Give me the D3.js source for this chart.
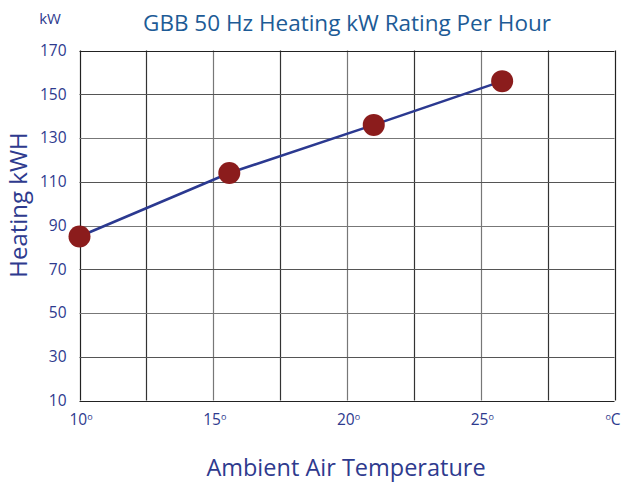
<!DOCTYPE html>
<html>
<head>
<meta charset="utf-8">
<script src="https://cdn.jsdelivr.net/npm/d3@7"></script>
<style>
  html, body { margin: 0; padding: 0; background: #fff; }
  svg { display: block; }
  text { font-family: "Open Sans", "Noto Sans", sans-serif; }
</style>
</head>
<body>
<svg id="chart" width="621" height="484"></svg>
<script>
// ---- data ----
const temperatures = [10, 15.6, 21.0, 25.8];
const heatingKW = [85, 114, 136, 156];
const yTicks = [10, 30, 50, 70, 90, 110, 130, 150, 170];
const xGrid = [10, 12.5, 15, 17.5, 20, 22.5, 25, 27.5, 30];
const xTickValues = [10, 15, 20, 25, 30];
const xTickLabels = ["10", "15", "20", "25", ""];
const xTickSuffix = ["o", "o", "o", "o", "oC"];
const titleText = "GBB 50 Hz Heating kW Rating Per Hour";
const yUnitText = "kW";
const yTitleText = "Heating kWH";
const xTitleText = "Ambient Air Temperature";

// ---- layout ----
const svg = d3.select("#chart");
const mLeft = 79.5, mRight = 614.5, mTop = 50.5, mBottom = 400.5;
const x = d3.scaleLinear().domain([10, 30]).range([mLeft, mRight]);
const y = d3.scaleLinear().domain([10, 170]).range([mBottom, mTop]);

const navy = "#2e3a8e";
const titleBlue = "#1d5b96";

// grid
const g = svg.append("g");
g.selectAll("line.v").data(xGrid).join("line")
  .attr("x1", d => Math.round(x(d)) + 0.5).attr("x2", d => Math.round(x(d)) + 0.5)
  .attr("y1", mTop).attr("y2", mBottom)
  .attr("stroke", (d, i) => (i === 0 || i === xGrid.length - 1) ? "#222" : (i % 2 ? "#333" : "#777"))
  .attr("stroke-width", 1.2);
g.selectAll("line.h").data(yTicks).join("line")
  .attr("x1", mLeft).attr("x2", mRight)
  .attr("y1", d => Math.round(y(d)) + 0.5).attr("y2", d => Math.round(y(d)) + 0.5)
  .attr("stroke", (d, i) => (i === 0 || i === yTicks.length - 1) ? "#222" : (i % 2 ? "#555" : "#777"))
  .attr("stroke-width", 1.2);

// y axis labels
const yAxis = d3.axisLeft(y).tickValues(yTicks).tickSize(0).tickPadding(13);
svg.append("g").attr("transform", `translate(${mLeft},0)`).call(yAxis)
  .call(s => s.select(".domain").remove())
  .call(s => s.selectAll("text")
    .attr("fill", navy).attr("font-size", 15.5)
    .attr("font-family", "'Open Sans', sans-serif"));

// x axis labels
const xAxis = d3.axisBottom(x).tickValues(xTickValues).tickSize(0).tickPadding(0)
  .tickFormat(() => "");
const xa = svg.append("g").attr("transform", `translate(0,${mBottom})`).call(xAxis);
xa.select(".domain").remove();
xa.selectAll(".tick text").each(function(d, i) {
  const suf = xTickSuffix[i];
  const t = d3.select(this).attr("y", 24).attr("dy", 0)
    .attr("x", suf.length > 1 ? -2 : 1)
    .attr("fill", navy).attr("font-size", 15.5).attr("font-family", "'Open Sans', sans-serif")
    .attr("text-anchor", "middle");
  t.text(null);
  t.append("tspan").text(xTickLabels[i]);
  t.append("tspan").attr("font-size", 9).attr("dy", -5).text("o");
  if (suf.length > 1) t.append("tspan").attr("dy", 5).text(suf.slice(1));
});

// line
const pts = temperatures.map((t, i) => [t, heatingKW[i]]);
svg.append("path").datum(pts)
  .attr("d", d3.line().x(d => x(d[0])).y(d => y(d[1])))
  .attr("fill", "none").attr("stroke", "#2b3990").attr("stroke-width", 2.6);

// points
svg.selectAll("circle.pt").data(pts).join("circle")
  .attr("cx", d => x(d[0])).attr("cy", d => y(d[1])).attr("r", 11)
  .attr("fill", "#8b1c1c");

// title
svg.append("text").attr("x", 347).attr("y", 31).attr("text-anchor", "middle")
  .attr("fill", titleBlue).attr("font-size", 22.5).text(titleText);
svg.append("text").attr("x", 50).attr("y", 24).attr("text-anchor", "middle")
  .attr("fill", navy).attr("font-size", 15).text(yUnitText);

// axis titles
svg.append("text").attr("transform", "translate(27,205) rotate(-90)")
  .attr("text-anchor", "middle").attr("fill", navy).attr("font-size", 24).text(yTitleText);
svg.append("text").attr("x", 346).attr("y", 476).attr("text-anchor", "middle")
  .attr("fill", navy).attr("font-size", 23.5).text(xTitleText);
</script>
</body>
</html>
